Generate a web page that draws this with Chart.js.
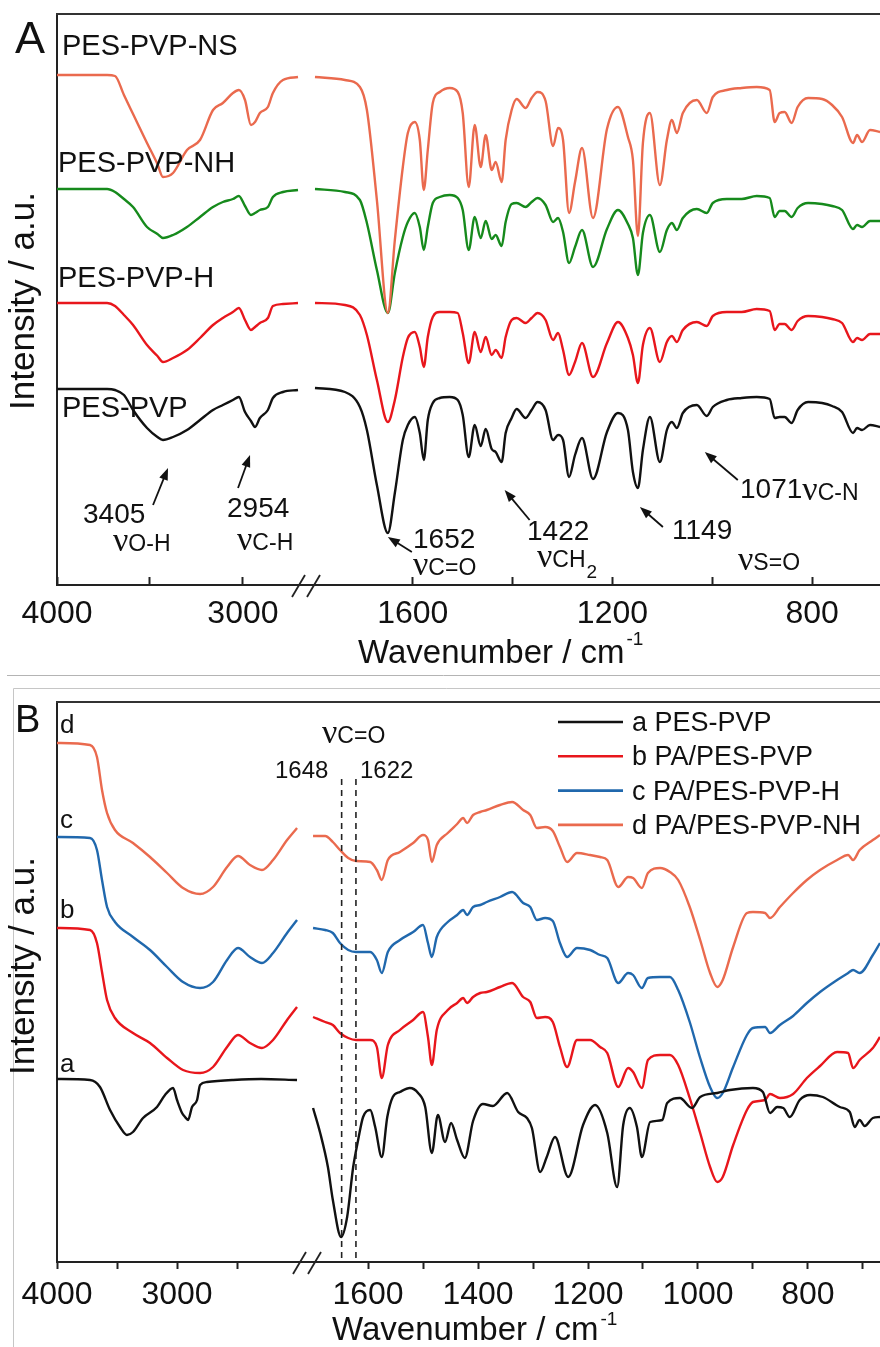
<!DOCTYPE html>
<html>
<head>
<meta charset="utf-8">
<title>FTIR spectra</title>
<script src="https://cdn.jsdelivr.net/npm/chart.js@4.4.1/dist/chart.umd.min.js"></script>
<style>
  html, body { margin: 0; padding: 0; background: #fff; overflow: hidden; }
  canvas { display: block; }
</style>
</head>
<body>
<canvas id="chartA" width="880" height="675"></canvas>
<canvas id="chartB" width="880" height="672"></canvas>
<script>
var FONT = "'Liberation Sans', Arial, Helvetica, sans-serif";
var SERIF = "'Liberation Serif', 'Times New Roman', serif";

// ---------- Panel A : wavenumbers (cm-1) on both sides of the axis break
var wnA1 = [4000, 3731, 3688, 3640, 3591, 3516, 3460, 3430, 3376, 3301, 3231, 3161, 3108, 3054, 3022, 2989, 2957, 2935, 2909, 2866, 2839, 2785, 2704];
var wnA2 = [1796, 1736, 1706, 1692, 1672, 1650, 1636, 1620, 1610, 1596, 1586, 1578, 1570, 1560, 1546, 1526, 1510, 1500, 1488, 1476,
            1464, 1454, 1442, 1434, 1422, 1414, 1402, 1392, 1374, 1362, 1350, 1334, 1319, 1309, 1299, 1287, 1275, 1261, 1239, 1211,
            1189, 1169, 1159, 1149, 1139, 1125, 1105, 1091, 1081, 1071, 1059, 1031, 1011, 999, 971, 941, 911, 885, 875, 865,
            855, 841, 829, 808, 780, 760, 740, 718, 710, 700, 684, 664];

// intensities (a.u., offset spectra)
var nsA1 = [510, 510, 509, 490, 471, 442, 421, 408, 412, 435, 445, 475, 482, 492, 495, 485, 460, 463, 472, 478, 492, 505, 508];
var nhA1 = [396, 396, 393, 386, 378, 358, 351, 347, 350, 358, 368, 378, 383, 386, 389, 379, 370, 372, 375, 378, 388, 393, 395];
var hA1 = [282, 282, 279, 270, 260, 240, 229, 223, 227, 235, 247, 260, 267, 273, 277, 265, 255, 258, 262, 267, 279, 281, 282];
var pvpA1 = [196, 196, 195, 190, 175, 157, 148, 145, 148, 155, 165, 175, 180, 185, 188, 173, 164, 158, 167, 175, 187, 193, 195];

var nsA2 = [508, 505, 498, 475, 385, 272, 345, 418, 452, 463, 445, 395, 435, 482, 493, 497, 493, 472, 398, 460,
            418, 450, 415, 423, 403, 445, 475, 486, 477, 487, 493, 484, 439, 457, 445, 372, 403, 437, 367, 456,
            478, 448, 425, 349, 442, 472, 400, 445, 465, 452, 472, 485, 472, 488, 495, 497, 498, 495, 463, 472,
            473, 462, 478, 487, 486, 480, 468, 442, 450, 443, 455, 453];
var nhA2 = [396, 393, 385, 362, 315, 272, 312, 348, 363, 372, 358, 335, 358, 382, 388, 390, 387, 375, 335, 368,
            347, 364, 346, 350, 339, 363, 381, 382, 378, 383, 387, 380, 363, 367, 353, 322, 338, 355, 318, 356,
            375, 361, 347, 310, 352, 370, 333, 355, 362, 355, 367, 376, 372, 382, 386, 386, 389, 387, 368, 374,
            374, 368, 377, 382, 381, 379, 375, 356, 360, 358, 364, 364];
var hA2 = [282, 280, 270, 250, 205, 163, 185, 228, 247, 253, 238, 218, 248, 268, 273, 273, 272, 252, 222, 253,
           233, 248, 230, 235, 227, 248, 265, 267, 262, 267, 272, 265, 245, 252, 235, 210, 223, 242, 208, 242,
           263, 247, 230, 202, 240, 257, 223, 243, 249, 243, 255, 263, 259, 269, 273, 273, 276, 274, 255, 261,
           261, 255, 264, 269, 268, 266, 262, 243, 247, 245, 251, 251];
var pvpA2 = [197, 193, 178, 155, 100, 52, 92, 145, 160, 168, 152, 125, 165, 182, 187, 188, 185, 170, 128, 160,
             139, 156, 136, 133, 123, 152, 167, 176, 167, 175, 183, 175, 145, 150, 145, 108, 130, 147, 106, 153,
             172, 155, 113, 97, 135, 168, 123, 155, 163, 157, 172, 180, 169, 178, 185, 187, 188, 186, 167, 168,
             168, 162, 175, 183, 182, 179, 173, 152, 157, 155, 160, 158];

var namesA = ['PES-PVP-NS', 'PES-PVP-NH', 'PES-PVP-H', 'PES-PVP'];
var ticksA1 = [4000, 3500, 3000], labelsA1 = [4000, 3000];
var ticksA2 = [1600, 1400, 1200, 1000, 800], labelsA2 = [1600, 1200, 800];

// ---------- Panel B
var wnB1 = [4000, 3725, 3667, 3625, 3583, 3517, 3367, 3225, 3083, 2950, 2808, 2700, 2583, 2492, 2392, 2292, 2200, 2083, 2000];
var wnBa1 = [4000, 3725, 3642, 3558, 3475, 3417, 3367, 3283, 3167, 3100, 3033, 3000, 2958, 2933, 2908, 2875, 2833, 2808, 2750, 2533, 2300, 2000];
var wnB2 = [1700, 1678, 1664, 1651, 1636, 1622, 1596, 1584, 1575, 1564, 1542, 1518, 1500, 1491, 1484, 1475, 1455, 1438, 1427, 1420,
            1409, 1396, 1384, 1360, 1338, 1318, 1305, 1293, 1278, 1264, 1251, 1238, 1220, 1196, 1178, 1165, 1145, 1127, 1118, 1102,
            1091, 1069, 1051, 1036, 1015, 996, 978, 965, 955, 936, 911, 900, 878, 869, 851, 827, 802, 778, 747, 727,
            718, 706, 682, 669];
var wnBa2 = [1700, 1687, 1673, 1664, 1649, 1638, 1627, 1618, 1609, 1596, 1587, 1575, 1565, 1555, 1542, 1524, 1509, 1496, 1484, 1473,
             1460, 1449, 1438, 1424, 1409, 1391, 1373, 1347, 1327, 1311, 1302, 1287, 1275, 1260, 1236, 1209, 1187, 1165, 1147, 1136,
             1124, 1111, 1102, 1087, 1065, 1056, 1033, 1011, 996, 965, 942, 900, 882, 869, 856, 845, 833, 815, 796, 773,
             742, 724, 715, 706, 697, 682, 669];

var aB1 = [183, 182, 175, 152, 135, 127, 130, 144, 155, 167, 174, 162, 149, 145, 142, 155, 162, 177, 180, 182, 183, 182];
var bB1 = [334, 332, 319, 290, 262, 244, 229, 219, 204, 192, 189, 195, 215, 227, 219, 214, 222, 242, 255];
var cB1 = [425, 424, 412, 382, 355, 340, 325, 312, 295, 280, 274, 280, 302, 314, 305, 299, 309, 329, 342];
var dB1 = [519, 517, 505, 472, 449, 432, 419, 405, 389, 374, 368, 375, 395, 406, 397, 392, 402, 422, 434];

var aB2 = [154, 129, 95, 62, 25, 45, 95, 122, 145, 152, 135, 105, 145, 165, 170, 174, 169, 155, 109, 147,
           120, 139, 122, 104, 141, 158, 156, 169, 150, 144, 134, 90, 105, 125, 85, 137, 157, 129, 75, 137,
           154, 135, 105, 140, 142, 159, 164, 154, 165, 169, 172, 174, 170, 149, 155, 154, 145, 162, 167, 165,
           155, 150, 135, 142, 136, 144, 145];
var bB2 = [245, 240, 237, 229, 224, 222, 222, 215, 184, 217, 232, 242, 250, 225, 197, 232, 252, 259, 264, 259,
           265, 269, 270, 275, 279, 265, 260, 244, 245, 240, 215, 195, 222, 222, 215, 209, 175, 194, 190, 174,
           202, 207, 207, 197, 164, 129, 95, 80, 85, 117, 152, 160, 162, 168, 164, 168, 184, 196, 210, 209,
           194, 202, 214, 225];
var cB2 = [334, 332, 329, 319, 312, 310, 310, 302, 289, 310, 322, 330, 337, 319, 305, 325, 340, 347, 352, 347,
           355, 357, 360, 365, 370, 359, 355, 342, 344, 341, 319, 305, 314, 312, 307, 304, 279, 289, 287, 274,
           284, 285, 285, 272, 240, 204, 175, 164, 169, 195, 227, 234, 235, 229, 237, 246, 259, 270, 282, 289,
           292, 289, 307, 319];
var dB2 = [426, 426, 420, 412, 404, 401, 400, 392, 382, 402, 410, 419, 427, 422, 400, 417, 429, 438, 444, 439,
           447, 450, 452, 457, 460, 452, 447, 434, 435, 431, 415, 400, 409, 407, 405, 402, 375, 385, 384, 374,
           389, 394, 390, 382, 355, 322, 289, 275, 282, 315, 349, 350, 349, 344, 355, 369, 382, 392, 402, 407,
           402, 412, 422, 427];

var namesB = ['a PES-PVP', 'b PA/PES-PVP', 'c PA/PES-PVP-H', 'd PA/PES-PVP-NH'];
var ticksB1 = [4000, 3500, 3000, 2500], labelsB1 = [4000, 3000];
var ticksB2 = [1600, 1500, 1400, 1300, 1200, 1100, 1000, 900, 800, 700], labelsB2 = [1600, 1400, 1200, 1000, 800];
var markedB = [1648, 1622];

var colors = {black: '#111111', red: '#e8161c', green: '#168a1c', salmon: '#ea6a4e', blue: '#2068ad'};

// ---------- helpers
function pts(wn, vals) {
  return wn.map(function (w, i) { return {x: w, y: vals[i]}; });
}

function spectrum(label, color, wn1, v1, wn2, v2) {
  var base = {label: label, borderColor: color, backgroundColor: color, borderWidth: 2.4,
              pointRadius: 0, fill: false, cubicInterpolationMode: 'monotone', yAxisID: 'y'};
  return [
    Object.assign({}, base, {data: pts(wn1, v1), xAxisID: 'x1'}),
    Object.assign({}, base, {data: pts(wn2, v2), xAxisID: 'x2'})
  ];
}

function xAxis(min, max, weight, ticks, labels, cfg) {
  return {
    type: 'linear', position: 'bottom', stack: 'wn', stackWeight: weight,
    reverse: true, min: min, max: max,
    afterBuildTicks: function (s) { s.ticks = ticks.map(function (v) { return {value: v}; }); },
    afterFit: function (s) { s.height = cfg.axisHeight; s.paddingLeft = 0; s.paddingRight = 0; },
    grid: {drawOnChartArea: false, drawTicks: true, tickLength: cfg.tickLength, tickWidth: 2, tickColor: '#222'},
    border: {display: true, color: '#222', width: 2},
    ticks: {autoSkip: false, maxRotation: 0, minRotation: 0, padding: cfg.tickPadding, color: '#111',
            font: {family: FONT, size: 32},
            callback: function (v) { return labels.indexOf(v) >= 0 ? String(v) : ''; }}
  };
}

function yAxis(max) {
  return {
    min: 0, max: max,
    afterFit: function (s) { s.width = 0; s.paddingTop = 0; s.paddingBottom = 0; },
    ticks: {display: false},
    grid: {display: false, drawTicks: false},
    border: {display: true, color: '#222', width: 2}
  };
}

function put(ctx, s, x, y, size, family, align) {
  ctx.font = size + 'px ' + (family || FONT);
  ctx.textAlign = align || 'left';
  ctx.textBaseline = 'alphabetic';
  ctx.fillStyle = '#111';
  ctx.fillText(s, x, y);
  return ctx.measureText(s).width;
}

function nu(ctx, x, y, sub, sub2) {
  var w = put(ctx, '\u03bd', x, y, 34, SERIF);
  var w2 = put(ctx, sub, x + w, y, 23);
  if (sub2) put(ctx, sub2, x + w + w2 + 1, y + 11, 19);
}

function arrow(ctx, x0, y0, x1, y1) {
  var ang = Math.atan2(y1 - y0, x1 - x0), L = 12, H = 4.5;
  var c = Math.cos(ang), s = Math.sin(ang);
  ctx.strokeStyle = '#111';
  ctx.fillStyle = '#111';
  ctx.lineWidth = 1.8;
  ctx.beginPath();
  ctx.moveTo(x0, y0);
  ctx.lineTo(x1 - L * 0.8 * c, y1 - L * 0.8 * s);
  ctx.stroke();
  ctx.beginPath();
  ctx.moveTo(x1, y1);
  ctx.lineTo(x1 - L * c + H * s, y1 - L * s - H * c);
  ctx.lineTo(x1 - L * c - H * s, y1 - L * s + H * c);
  ctx.closePath();
  ctx.fill();
}

function seg(ctx, x0, y0, x1, y1, color, lw) {
  ctx.strokeStyle = color;
  ctx.lineWidth = lw;
  ctx.beginPath();
  ctx.moveTo(x0, y0);
  ctx.lineTo(x1, y1);
  ctx.stroke();
}

function breakMarks(ctx, x, y) {
  seg(ctx, x - 14, y + 12, x - 1, y - 10, '#222', 1.8);
  seg(ctx, x + 1, y + 12, x + 14, y - 10, '#222', 1.8);
}

function yTitle(ctx, x, y) {
  ctx.save();
  ctx.translate(x, y);
  ctx.rotate(-Math.PI / 2);
  ctx.font = '35px ' + FONT;
  ctx.textAlign = 'center';
  ctx.textBaseline = 'middle';
  ctx.fillStyle = '#111';
  ctx.fillText('Intensity / a.u.', 0, 0);
  ctx.restore();
}

function xTitle(ctx, x, y, supY) {
  var w = put(ctx, 'Wavenumber / cm', x, y, 33);
  put(ctx, '-1', x + w + 2, supY, 19);
}

// ---------- Panel A
var decorA = {
  id: 'decorA',
  afterDraw: function (chart) {
    var ctx = chart.ctx, a = chart.chartArea;
    var sx1 = chart.scales.x1, sx2 = chart.scales.x2, sy = chart.scales.y;
    ctx.save();
    seg(ctx, a.left - 1, a.top, a.right, a.top, '#333', 2);
    breakMarks(ctx, sx1.right, a.bottom);

    put(ctx, 'A', 15, 53, 45);
    put(ctx, namesA[0], 62, 55, 29);
    put(ctx, namesA[1], 58, 172, 29);
    put(ctx, namesA[2], 58, 287, 29);
    put(ctx, namesA[3], 62, 417, 29);

    yTitle(ctx, 24, 301);
    xTitle(ctx, 358, 663, 645);

    put(ctx, '3405', 83, 523, 28);
    nu(ctx, 113, 551, 'O-H');
    put(ctx, '2954', 227, 517, 28);
    nu(ctx, 237, 550, 'C-H');
    put(ctx, '1652', 413, 548, 28);
    nu(ctx, 413, 575, 'C=O');
    put(ctx, '1422', 527, 540, 28);
    nu(ctx, 537, 567, 'CH', '2');
    put(ctx, '1149', 672, 539, 28);
    var w = put(ctx, '1071', 740, 498, 28);
    nu(ctx, 740 + w, 500, 'C-N');
    nu(ctx, 738, 570, 'S=O');

    // arrow tips sit just below the marked bands of PES-PVP
    var tips = [[sx1, 3403, 117, -15, 37], [sx1, 2962, 130, -12, 33], [sx2, 1650, 48, 24, 15],
                [sx2, 1416, 95, 25, 30], [sx2, 1145, 78, 23, 20], [sx2, 1015, 133, 33, 28]];
    tips.forEach(function (t) {
      var px = t[0].getPixelForValue(t[1]), py = sy.getPixelForValue(t[2]);
      arrow(ctx, px + t[3], py + t[4], px, py);
    });
    ctx.restore();
  }
};

var datasetsA = [].concat(
  spectrum(namesA[0], colors.salmon, wnA1, nsA1, wnA2, nsA2),
  spectrum(namesA[1], colors.green, wnA1, nhA1, wnA2, nhA2),
  spectrum(namesA[2], colors.red, wnA1, hA1, wnA2, hA2),
  spectrum(namesA[3], colors.black, wnA1, pvpA1, wnA2, pvpA2)
);

var cfgA = {axisHeight: 90, tickLength: -8, tickPadding: 18};
new Chart(document.getElementById('chartA'), {
  type: 'line',
  data: {datasets: datasetsA},
  options: {
    responsive: false, animation: false, events: [],
    layout: {padding: {left: 57, top: 14, right: 0, bottom: 0}},
    plugins: {legend: {display: false}, tooltip: {enabled: false}},
    scales: {
      x1: xAxis(2661, 4000, 249, ticksA1, labelsA1, cfgA),
      x2: xAxis(664, 1814, 574, ticksA2, labelsA2, cfgA),
      y: yAxis(571)
    }
  },
  plugins: [decorA]
});

// ---------- Panel B
var decorB = {
  id: 'decorB',
  afterDraw: function (chart) {
    var ctx = chart.ctx, a = chart.chartArea;
    var sx1 = chart.scales.x1, sx2 = chart.scales.x2;
    ctx.save();
    seg(ctx, 7, 0.5, 880, 0.5, '#b4b4b4', 1);
    ctx.strokeStyle = '#c6c6c6';
    ctx.lineWidth = 1;
    ctx.beginPath();
    ctx.moveTo(13.5, 672);
    ctx.lineTo(13.5, 13.5);
    ctx.lineTo(880, 13.5);
    ctx.stroke();

    seg(ctx, a.left - 1, a.top, a.right, a.top, '#333', 2);
    breakMarks(ctx, sx1.right, a.bottom);

    put(ctx, 'B', 15, 57, 38);
    put(ctx, 'd', 60, 58, 26);
    put(ctx, 'c', 60, 153, 26);
    put(ctx, 'b', 60, 243, 26);
    put(ctx, 'a', 60, 397, 26);

    yTitle(ctx, 24, 291);
    xTitle(ctx, 332, 665, 650);

    nu(ctx, 322, 68, 'C=O');
    put(ctx, String(markedB[0]), 275, 103, 24);
    put(ctx, String(markedB[1]), 360, 103, 24);
    ctx.setLineDash([6, 5]);
    markedB.forEach(function (w) {
      var x = sx2.getPixelForValue(w);
      seg(ctx, x, 104, x, a.bottom, '#222', 1.6);
    });
    ctx.setLineDash([]);

    var legendColors = [colors.black, colors.red, colors.blue, colors.salmon];
    namesB.forEach(function (n, i) {
      var y = 47 + i * 34.3;
      seg(ctx, 558, y, 623, y, legendColors[i], 2.6);
      put(ctx, n, 632, y + 9, 27);
    });
    ctx.restore();
  }
};

var datasetsB = [].concat(
  spectrum('a', colors.black, wnBa1, aB1, wnBa2, aB2),
  spectrum('b', colors.red, wnB1, bB1, wnB2, bB2),
  spectrum('c', colors.blue, wnB1, cB1, wnB2, cB2),
  spectrum('d', colors.salmon, wnB1, dB1, wnB2, dB2)
);

var cfgB = {axisHeight: 85, tickLength: 7, tickPadding: 7};
new Chart(document.getElementById('chartB'), {
  type: 'line',
  data: {datasets: datasetsB},
  options: {
    responsive: false, animation: false, events: [],
    layout: {padding: {left: 57, top: 27, right: 0, bottom: 0}},
    plugins: {legend: {display: false}, tooltip: {enabled: false}},
    scales: {
      x1: xAxis(1917, 4000, 250, ticksB1, labelsB1, cfgB),
      x2: xAxis(669, 1711, 573, ticksB2, labelsB2, cfgB),
      y: yAxis(560)
    }
  },
  plugins: [decorB]
});
</script>
</body>
</html>
